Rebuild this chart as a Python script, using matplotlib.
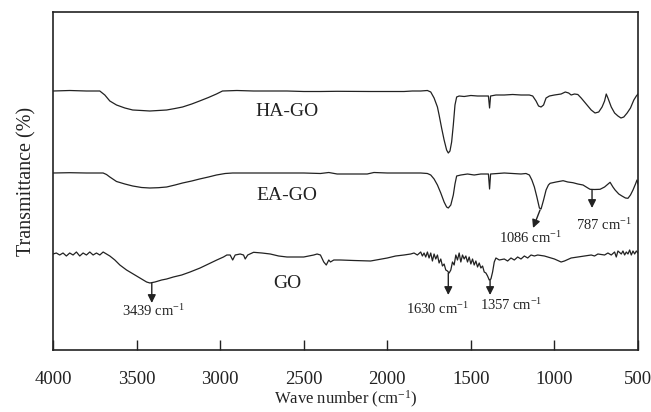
import matplotlib
matplotlib.use("Agg")
import matplotlib.pyplot as plt
import numpy as np

plt.rcParams['font.family'] = ['Liberation Serif', 'DejaVu Serif']
plt.rcParams['mathtext.fontset'] = 'custom'
plt.rcParams['mathtext.rm'] = 'Liberation Serif'
plt.rcParams['mathtext.it'] = 'Liberation Serif:italic'
plt.rcParams['mathtext.bf'] = 'Liberation Serif:bold'

# ---- data (wavenumber, transmittance in arbitrary offset units) ----
ha_wn = [4000, 3900, 3800, 3720, 3690, 3660, 3620, 3570, 3523, 3470, 3421, 3370, 3320, 3270, 3225, 3170,
         3123, 3070, 3022, 2986, 2900, 2800, 2700, 2600, 2500, 2400, 2300, 2200, 2100, 2000, 1900, 1850,
         1800, 1760, 1740, 1720, 1700, 1690, 1675, 1660, 1645, 1635, 1625, 1615, 1605, 1595, 1585, 1570,
         1540, 1500, 1460, 1420, 1395, 1388, 1382, 1350, 1300, 1250, 1200, 1150, 1130, 1110, 1095, 1080,
         1065, 1050, 1030, 1000, 960, 935, 915, 900, 880, 860, 840, 810, 780, 757, 735, 715, 700, 690,
         680, 660, 640, 620, 602, 585, 565, 545, 525, 510, 500]
ha_t = [259, 259.5, 259, 259, 255, 249, 245, 242, 240, 239.5, 239, 239.5, 240, 241.5, 243, 246,
        249, 252.5, 256, 259, 259.5, 259, 259, 259, 258.5, 258.5, 258.7, 258.6, 258.5, 258.5, 258.5, 259,
        259, 259.5, 258, 252, 243, 235, 222, 210, 200, 197, 199, 208, 225, 245, 253, 254,
        253.5, 254.5, 254, 254, 254, 242, 254, 255, 255, 255.5, 255, 255, 254, 249, 244, 243,
        245, 252, 254, 255, 256, 258, 257, 255, 256, 255.5, 252, 246, 240, 237, 238, 243, 249, 256,
        252, 243, 237, 234, 232, 233, 237, 242, 250, 254, 256]

ea_wn = [4000, 3900, 3800, 3700, 3680, 3660, 3620, 3570, 3523, 3470, 3421, 3370, 3320, 3270, 3225, 3170,
         3123, 3070, 3022, 2970, 2925, 2800, 2700, 2600, 2500, 2400, 2350, 2300, 2200, 2120, 2080, 2000,
         1900, 1800, 1760, 1740, 1720, 1700, 1680, 1660, 1645, 1635, 1620, 1605, 1595, 1585, 1560, 1520,
         1480, 1440, 1395, 1388, 1382, 1340, 1300, 1250, 1200, 1170, 1150, 1135, 1120, 1105, 1090, 1080,
         1065, 1050, 1036, 1026, 990, 948, 920, 889, 860, 829, 800, 787, 760, 727, 700, 667, 650, 637,
         615, 596, 575, 560, 545, 530, 515, 506, 500]
ea_t = [177, 177.3, 177, 177, 175.5, 173, 168.5, 166, 164, 162.5, 162, 162.3, 163, 165, 167, 169,
        171, 173, 175, 176.5, 177, 177, 177, 177, 177, 176.5, 177.5, 176, 176, 176, 177.5, 177,
        177, 177, 176.5, 175, 171, 165, 157, 148, 143, 142, 145, 155, 166, 174, 175, 176,
        175, 176, 176, 161, 176, 176.5, 177, 176.5, 176, 176.5, 175, 170, 163, 153, 142, 141,
        150, 160, 165, 166.7, 168, 169.3, 168, 167.3, 166, 165, 162, 160.7, 160.5, 160.7, 163, 167.7, 163, 160,
        156, 154, 152, 151.7, 155, 160, 166, 170, 166]

go_wn = [4000, 3980, 3960, 3940, 3920, 3900, 3880, 3860, 3840, 3820, 3800, 3780, 3760, 3740, 3720, 3700,
         3680, 3660, 3630, 3600, 3560, 3530, 3480, 3440, 3420, 3390, 3350, 3320, 3280, 3230, 3180, 3120,
         3070, 3020, 2980, 2960, 2940, 2925, 2910, 2880, 2860, 2850, 2835, 2800, 2750, 2700, 2650, 2600,
         2500, 2440, 2420, 2400, 2380, 2365, 2350, 2340, 2320, 2280, 2200, 2100, 2050, 2000, 1950, 1900,
         1860, 1840, 1820, 1800, 1790, 1780, 1770, 1760, 1750, 1740, 1730, 1720, 1710, 1700, 1690, 1680,
         1670, 1660, 1650, 1640, 1630, 1620, 1610, 1600, 1590, 1580, 1570, 1560, 1550, 1540, 1530, 1520,
         1510, 1500, 1490, 1480, 1470, 1460, 1450, 1440, 1430, 1420, 1410, 1400, 1390, 1380, 1370, 1360,
         1350, 1330, 1300, 1280, 1260, 1240, 1220, 1200, 1180, 1160, 1140, 1120, 1100, 1060, 1040, 1000,
         960, 940, 900, 860, 820, 780, 760, 740, 700, 680, 660, 640, 630, 620, 600, 590,
         580, 570, 560, 550, 540, 530, 520, 510, 500]
go_t = [96, 97, 95, 97, 94, 97, 95, 98, 94, 97, 95, 98, 95, 97, 95, 98,
        96, 94, 90, 85, 80, 77, 72, 68, 67, 68, 70, 71, 73, 75, 78, 82,
        86, 90, 93, 95, 95, 90, 95, 96, 95, 91, 95, 97.7, 97, 96, 94, 93,
        93, 95, 96, 95, 88, 85, 90, 88, 90, 90, 89.5, 89, 90.5, 92, 94, 95,
        96, 97, 95, 98, 94, 97, 93, 98, 92, 97, 89, 96, 91, 95, 87, 91,
        84, 86, 80, 79, 77, 80, 88, 85, 95, 90, 97, 88, 95, 91, 94, 88,
        93, 86, 91, 85, 89, 83, 87, 82, 84, 78, 77, 74, 70, 71, 78, 88,
        92, 90, 91, 89, 92, 90, 93, 91, 94, 92, 95, 94, 95, 94, 93, 91,
        88, 89, 92, 93, 94, 95, 94, 96, 95, 97, 95, 98, 93, 99, 96, 99,
        95, 98, 96, 100, 95, 99, 96, 99, 97]

series_labels = ["HA-GO", "EA-GO", "GO"]
x_ticks = [4000, 3500, 3000, 2500, 2000, 1500, 1000, 500]

fig = plt.figure(figsize=(6.51, 4.12), dpi=100)
ax = fig.add_axes([53/651, 62/412, 585/651, 338/412])
col = '#222222'
for wn, t in [(ha_wn, ha_t), (ea_wn, ea_t), (go_wn, go_t)]:
    ax.plot(wn, t, color=col, lw=0.9)

ax.set_xlim(4000, 500)
ax.set_ylim(0, 338)
ax.set_xticks(x_ticks)
ax.set_yticks([])
ax.tick_params(axis='x', direction='in', length=7, width=1.0, pad=15, labelsize=13.5, colors=col)
for s in ax.spines.values():
    s.set_linewidth(1.2)
    s.set_color(col)

ax.set_xlabel(r'Wave number (cm$^{\mathregular{-1}}$)', fontsize=12, color=col, labelpad=1)
ax.set_ylabel('Transmittance (%)', fontsize=14.5, color=col, labelpad=12)

# curve labels
ax.text(2600, 238, series_labels[0], ha='center', va='center', fontsize=14, color=col)
ax.text(2600, 154, series_labels[1], ha='center', va='center', fontsize=14, color=col)
ax.text(2600, 67, series_labels[2], ha='center', va='center', fontsize=14, color=col)

ap = dict(arrowstyle='-|>', mutation_scale=12, lw=1.0, color=col, shrinkA=0, shrinkB=0)
cm = r' cm$^{\mathregular{-1}}$'
fs = 10.5
ax.annotate('', xy=(3409, 47), xytext=(3409, 67), arrowprops=ap)
ax.text(3400, 39, '3439' + cm, ha='center', va='center', fontsize=fs, color=col)
ax.annotate('', xy=(1635, 55), xytext=(1635, 77), arrowprops=ap)
ax.text(1700, 41, '1630' + cm, ha='center', va='center', fontsize=fs, color=col)
ax.annotate('', xy=(1385, 55), xytext=(1385, 70), arrowprops=ap)
ax.text(1260, 45, '1357' + cm, ha='center', va='center', fontsize=fs, color=col)
ax.annotate('', xy=(1128, 122), xytext=(1086, 140), arrowprops=ap)
ax.text(1140, 112, '1086' + cm, ha='center', va='center', fontsize=fs, color=col)
ax.annotate('', xy=(775, 142), xytext=(775, 160), arrowprops=ap)
ax.text(705, 125, '787' + cm, ha='center', va='center', fontsize=fs, color=col)

fig.savefig('out.png', dpi=100)
